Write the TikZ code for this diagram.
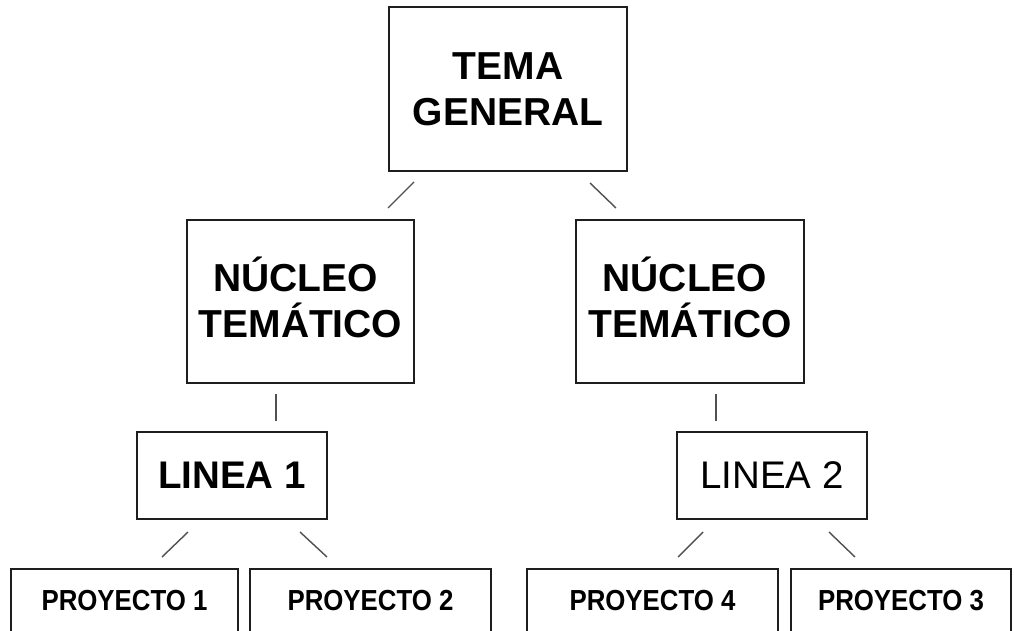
\documentclass[tikz,border=0pt]{standalone}
\usepackage{fontspec}
\setmainfont{Liberation Sans}
\usetikzlibrary{calc}
\definecolor{boxc}{HTML}{1E1E1E}
\definecolor{connc}{HTML}{505050}
\begin{document}
\begin{tikzpicture}[x=1pt,y=-1pt,
  box/.style={draw=boxc, line width=1.8pt, inner sep=0pt, outer sep=0pt, align=center,
              font=\bfseries\fontsize{39}{46}\selectfont},
  linebox/.style={box, minimum width=190pt, minimum height=87pt, font=\bfseries\fontsize{38.5}{46}\selectfont},
  projbox/.style={box, minimum height=64pt, font=\bfseries\fontsize{29}{34}\selectfont},
  conn/.style={draw=connc, line width=1.4pt}]
\useasboundingbox (0,0) rectangle (1014,631);
\clip (0,0) rectangle (1014,631);
\fill[white] (0,0) rectangle (1014,631);

\node[box, minimum width=238pt, minimum height=164pt] (tema) at (508,89) {TEMA\\GENERAL};
\node[box, minimum width=227pt, minimum height=163pt] (nuc1) at (300.5,301.5) {N\smash{Ú}CLEO\kern10pt\\TEM\smash{Á}TICO};
\node[box, minimum width=228pt, minimum height=163pt] (nuc2) at (690,301.5) {N\smash{Ú}CLEO\kern10pt\\TEM\smash{Á}TICO};
\node[linebox] (lin1) at (232,475.5) {LINEA 1};
\node[linebox, font=\fontsize{38.5}{46}\selectfont] (lin2) at (772,475.5) {LINEA 2};
\node[projbox, minimum width=227pt] (p1) at (124.5,601) {\scalebox{0.89}[1]{PROYECTO 1}};
\node[projbox, minimum width=241pt] (p2) at (370.5,601) {\scalebox{0.89}[1]{PROYECTO 2}};
\node[projbox, minimum width=251pt] (p4) at (652.5,601) {\scalebox{0.89}[1]{PROYECTO 4}};
\node[projbox, minimum width=220pt] (p3) at (901,601) {\scalebox{0.89}[1]{PROYECTO 3}};

\draw[conn] ($(tema.south)+(-94,11)$) -- ($(nuc1.north)+(87.5,-12)$);
\draw[conn] ($(tema.south)+(82,12)$) -- ($(nuc2.north)+(-74,-12)$);
\draw[conn] ($(nuc1.south)+(-24.5,11)$) -- ($(lin1.north)+(44,-11)$);
\draw[conn] ($(nuc2.south)+(26,11)$) -- ($(lin2.north)+(-56,-11)$);
\draw[conn] ($(lin1.south)+(-44,13)$) -- ($(p1.north)+(37.5,-12)$);
\draw[conn] ($(lin1.south)+(68,13)$) -- ($(p2.north)+(-43.5,-12)$);
\draw[conn] ($(lin2.south)+(-69,13)$) -- ($(p4.north)+(25.5,-12)$);
\draw[conn] ($(lin2.south)+(57,13)$) -- ($(p3.north)+(-46,-12)$);
\end{tikzpicture}
\end{document}
